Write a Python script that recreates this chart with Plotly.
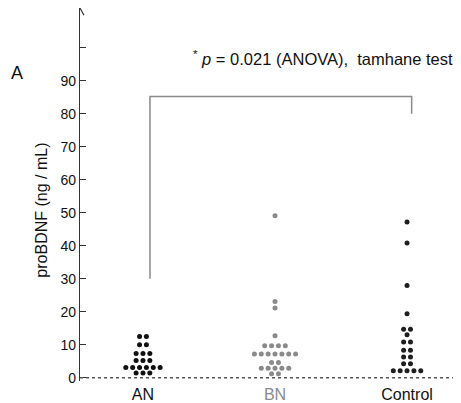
import plotly.graph_objects as go
from collections import Counter

categories = ["AN", "BN", "Control"]
an_values = [12.5, 12.5, 10.0, 10.0, 7.3, 7.3, 7.3, 5.2, 5.2, 5.2,
             3.1, 3.1, 3.1, 3.1, 3.1, 3.1, 1.4, 1.4, 1.4]
bn_values = [49.1, 23.1, 21.1, 12.7, 9.7, 9.7, 9.7, 9.7,
             7.2, 7.2, 7.2, 7.2, 7.2, 7.2, 7.2, 4.6, 4.6,
             2.9, 2.9, 2.9, 2.9, 2.9, 1.2, 1.2]
control_values = [47.2, 40.8, 27.9, 19.4, 14.7, 14.7, 13.0, 10.8, 10.8,
                  8.3, 8.3, 6.3, 6.3, 4.2, 4.2, 2.1, 2.1, 2.1, 2.1, 2.1]
y_tick_vals = [0, 10, 20, 30, 40, 50, 60, 70, 80, 90, 100]
y_tick_text = ["0", "10", "20", "30", "40", "50", "60", "70", "80", "90", ""]

series = [an_values, bn_values, control_values]
colors = ["#111111", "#8a8a8a", "#1e1e1e"]
STEP = 0.052
FONT = "Arial, Liberation Sans, sans-serif"

fig = go.Figure()
for i, (vals, col) in enumerate(zip(series, colors)):
    center = i + 1
    counts = Counter(vals)
    seen = Counter()
    xs, ys = [], []
    for v in vals:
        n = counts[v]
        k = seen[v]
        seen[v] += 1
        xs.append(center + (k - (n - 1) / 2) * STEP)
        ys.append(v)
    fig.add_trace(go.Scatter(x=xs, y=ys, mode="markers",
                             marker=dict(size=5, color=col, symbol="circle"),
                             showlegend=False, cliponaxis=False))

x_lo, x_hi = 0.523, 3.386

# dotted baseline at y=0
fig.add_shape(type="line", xref="paper", x0=0, x1=1, yref="y", y0=0, y1=0,
              line=dict(color="#555555", width=1.5, dash="dot"))
# bracket
fig.add_shape(type="path", xref="x", yref="y",
              path="M 1.053,30 L 1.053,85.2 L 3.035,85.2 L 3.035,80",
              line=dict(color="#8a8a8a", width=1.5))
# arrow head on y axis
fig.add_trace(go.Scatter(x=[x_lo - 0.03, x_lo, x_lo + 0.03], y=[109.8, 112, 109.8],
                         mode="lines", line=dict(color="#333333", width=1.2),
                         showlegend=False, cliponaxis=False, hoverinfo="skip"))

fig.add_annotation(text="<sup>*</sup> <i>p</i> = 0.021 (ANOVA),  tamhane test",
                   x=2.36, y=97, xref="x", yref="y", showarrow=False,
                   xanchor="center", yanchor="middle",
                   font=dict(size=16.5, color="#111111", family=FONT))
fig.add_annotation(text="A", x=(17 - 80) / 378,
                   y=(381 - 73) / 373, xref="paper", yref="paper",
                   xanchor="center", yanchor="middle",
                   showarrow=False, font=dict(size=18, color="#111111", family=FONT))
fig.add_annotation(text="proBDNF (ng / mL)", textangle=-90,
                   x=(42 - 80) / 378, y=50.6, xref="paper", yref="y",
                   xanchor="center", yanchor="middle",
                   showarrow=False, font=dict(size=16, color="#111111", family=FONT))

# page body has an 8px margin, so the figure is drawn 8px smaller
fig.update_layout(
    width=453, height=395,
    margin=dict(l=72, r=3, t=0, b=22),
    paper_bgcolor="white", plot_bgcolor="white",
    font=dict(family=FONT, color="#111111"),
    xaxis=dict(range=[x_lo, x_hi], tickvals=[1, 2, 3],
               ticktext=["AN", "<span style='color:#8a8a8a'>BN</span>", "Control"],
               showgrid=False, zeroline=False, showline=False, ticks="",
               automargin=False, ticklabelstandoff=2,
               tickfont=dict(size=16, color="#111111")),
    yaxis=dict(range=[-1, 112], tickvals=y_tick_vals, ticktext=y_tick_text,
               showgrid=False, zeroline=False, showline=True, linecolor="#333333",
               linewidth=1.2, ticks="inside", ticklen=6, tickcolor="#333333",
               automargin=False,
               tickfont=dict(size=14, color="#111111")),
)

fig.write_html("out.html")
